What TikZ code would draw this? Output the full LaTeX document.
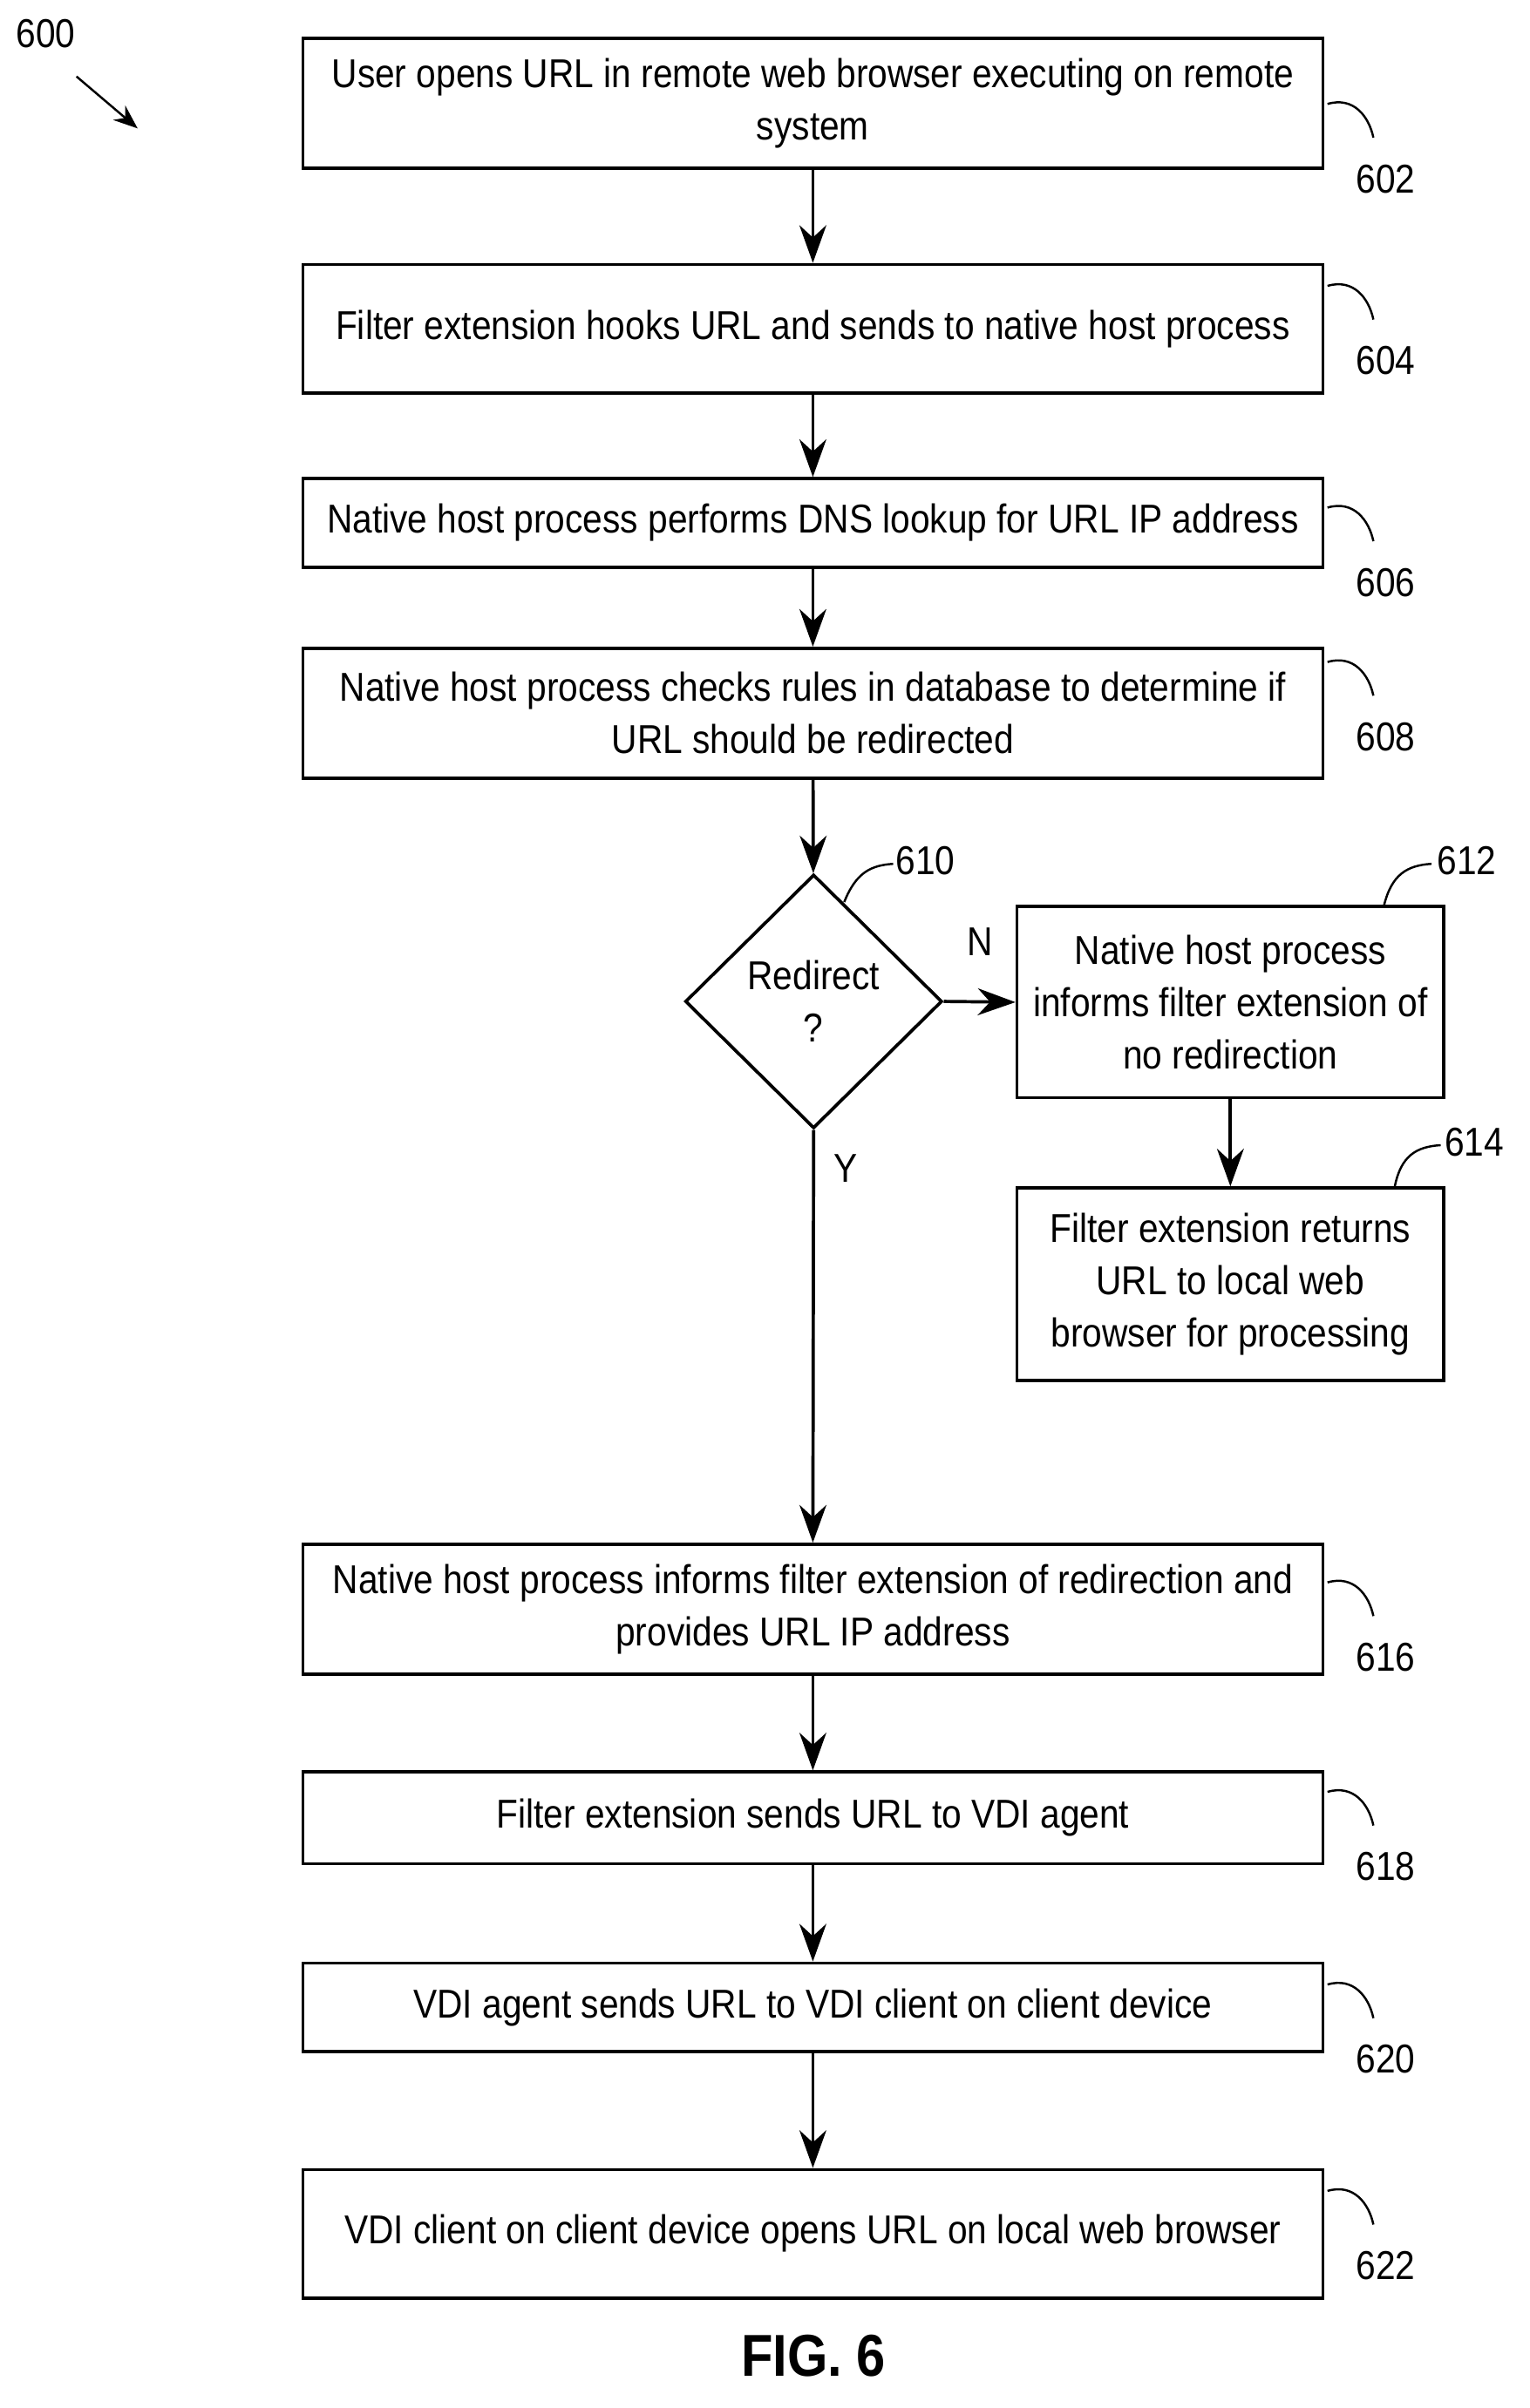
\documentclass[tikz,border=0pt]{standalone}
\usepackage{fontspec}
\setmainfont{Liberation Sans}[FakeStretch=0.88]
\usetikzlibrary{shapes.geometric,arrows.meta}
\begin{document}
\begin{tikzpicture}[x=0.02cm,y=-0.02cm,
  box/.style={draw,line width=1.2pt,inner sep=0,align=center,font=\fontsize{15}{19.5}\selectfont},
  lab/.style={font=\fontsize{15}{17}\selectfont},
  arr/.style={line width=1.2pt,-{Stealth[length=14pt,width=10pt]}},
  sq/.style={line width=0.8pt}]
\useasboundingbox (0,0) rectangle (1000,1575);
\newcommand\bx[6]{\node[box,minimum width={(#3-#2)*0.02cm},minimum height={(#5-#4)*0.02cm}] (#1) at ({(#2+#3)/2},{(#4+#5)/2}) {#6};}
\bx{b602}{198}{865}{25}{110}{User opens URL in remote web browser executing on remote\\system}
\bx{b604}{198}{865}{173}{257}{Filter extension hooks URL and sends to native host process}
\bx{b606}{198}{865}{313}{371}{Native host process performs DNS lookup for URL IP address}
\bx{b608}{198}{865}{424}{509}{Native host process checks rules in database to determine if\\URL should be redirected}
\node[box,diamond,minimum width=0.02cm*168,minimum height=0.02cm*166] (d610) at (532,655) {Redirect\\?};
\bx{b612}{665}{944}{593}{718}{Native host process\\informs filter extension of\\no redirection}
\bx{b614}{665}{944}{777}{903}{Filter extension returns\\URL to local web\\browser for processing}
\bx{b616}{198}{865}{1010}{1095}{Native host process informs filter extension of redirection and\\provides URL IP address}
\bx{b618}{198}{865}{1159}{1219}{Filter extension sends URL to VDI agent}
\bx{b620}{198}{865}{1284}{1342}{VDI agent sends URL to VDI client on client device}
\bx{b622}{198}{865}{1419}{1503}{VDI client on client device opens URL on local web browser}
\draw[arr] (b602) -- (b604);
\draw[arr] (b604) -- (b606);
\draw[arr] (b606) -- (b608);
\draw[arr] (b608) -- (d610);
\draw[arr] (d610.east) -- (b612.west);
\draw[arr] (b612) -- (b614);
\draw[arr] (d610.south) -- (b616.north);
\draw[arr] (b616) -- (b618);
\draw[arr] (b618) -- (b620);
\draw[arr] (b620) -- (b622);
\node[lab] (n) at (641,616) {N};
\node[lab] (y) at (553,764) {Y};
\foreach \n/\yy in {602/68,604/187,606/332,608/433,616/1035,618/1172,620/1298,622/1433}{
  \draw[sq] (868,\yy) .. controls (885,\yy-5) and (895,\yy+8) .. (898,\yy+22);
  \node[lab] at (906,\yy+49) {\n};
}
\draw[sq] (552,590) .. controls (560,570) and (570,566) .. (584,565);
\node[lab] at (605,563) {610};
\draw[sq] (905,592) .. controls (910,572) and (920,566) .. (936,565);
\node[lab] at (959,563) {612};
\draw[sq] (912,776) .. controls (916,756) and (926,750) .. (942,749);
\node[lab] at (964,747) {614};
\node[lab] at (30,22) {600};
\draw[arr,line width=0.8pt,-{Stealth[length=9pt,width=7pt]}] (50,50) -- (90,84);
\node[font=\bfseries\fontsize{22}{24}\selectfont] at (532,1541) {FIG. 6};
\end{tikzpicture}
\end{document}
